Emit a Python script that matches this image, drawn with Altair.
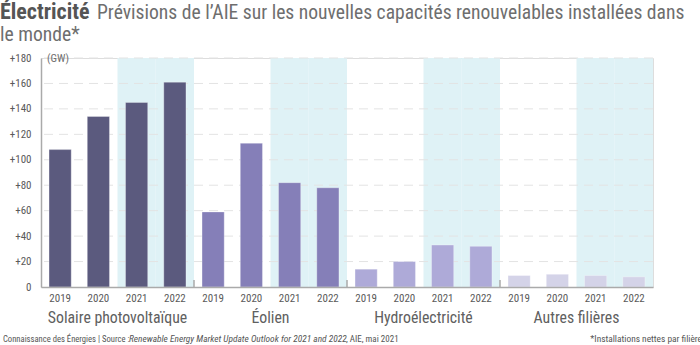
import altair as alt
import pandas as pd

groups = ["Solaire photovoltaïque", "Éolien", "Hydroélectricité", "Autres filières"]
years = ["2019", "2020", "2021", "2022"]
solaire = [108, 134, 145, 161]
eolien = [59, 113, 82, 78]
hydro = [14, 20, 33, 32]
autres = [9, 10, 9, 8]
colors = ["#5b5a7e", "#857fb8", "#aeaad8", "#d4d3e8"]
grid_vals = [20, 40, 60, 80, 100, 120, 140, 160, 180]
shaded_years = ["2021", "2022"]

FONT = "Liberation Sans Narrow, Roboto Condensed, DejaVu Sans Condensed, Roboto, sans-serif"
W, H = 612, 229

series = [solaire, eolien, hydro, autres]
rows = []
for g, vals in zip(groups, series):
    for y, v in zip(years, vals):
        rows.append({"group": g, "year": y, "key": g + "|" + y, "value": v})
df = pd.DataFrame(rows)
keys = list(df["key"])

xscale = alt.Scale(domain=keys, paddingInner=0, paddingOuter=0)
yscale = alt.Scale(domain=[0, 180], nice=False)

xaxis = alt.Axis(labelExpr="split(datum.value, '|')[1]", labelAngle=0,
                 labelFont=FONT, labelFontSize=11, labelColor="#5a5a5a",
                 labelPadding=5, ticks=False, domainColor="#aaaaaa",
                 domainWidth=1.5, title=None, grid=False)
yaxis = alt.Axis(values=[0] + grid_vals, grid=False, ticks=False,
                 labelExpr="datum.value == 0 ? '0' : '+' + datum.label",
                 labelFont=FONT, labelFontSize=11, labelColor="#5a5a5a",
                 labelPadding=10, domainColor="#aaaaaa", domainWidth=1.5, title=None)

shade_df = df[df["year"].isin(shaded_years)]
shade = alt.Chart(shade_df).mark_rect(color="#dff2f6").encode(
    x=alt.X("key:N", scale=xscale, axis=xaxis),
    y=alt.value(0), y2=alt.value(H),
)

grid = alt.Chart(pd.DataFrame({"v": grid_vals})).mark_rule(
    color="#e3e3e3", strokeDash=[9, 6], strokeWidth=1
).encode(y=alt.Y("v:Q", scale=yscale, axis=yaxis))

bars = alt.Chart(df).mark_bar(
    width=alt.RelativeBandSize(0.58), stroke="#ffffff", strokeWidth=0.6, strokeOpacity=0.5
).encode(
    x=alt.X("key:N", scale=xscale, sort=keys, axis=xaxis),
    y=alt.Y("value:Q", scale=yscale, axis=yaxis),
    color=alt.Color("group:N", scale=alt.Scale(domain=groups, range=colors), legend=None),
)

sep_df = pd.DataFrame({"key": [g + "|2019" for g in groups[1:]]})
seps = alt.Chart(sep_df).mark_rule(color="#aaaaaa", strokeWidth=1.5).encode(
    x=alt.X("key:N", scale=xscale, bandPosition=0, axis=xaxis),
    y=alt.value(H - 7), y2=alt.value(H),
)

glab_df = pd.DataFrame({"key": [g + "|2021" for g in groups], "group": groups})
glabels = alt.Chart(glab_df).mark_text(
    font=FONT, fontSize=15.8, color="#606060", baseline="middle"
).encode(
    x=alt.X("key:N", scale=xscale, bandPosition=0, axis=xaxis),
    y=alt.value(H + 31),
    text="group:N",
)

def txt(text, x, y, size, color="#6e6e6e", weight="normal", style="normal", align="left", baseline="alphabetic"):
    return alt.Chart(pd.DataFrame({"t": [text]})).mark_text(
        font=FONT, fontSize=size, color=color, fontWeight=weight, fontStyle=style,
        align=align, baseline=baseline
    ).encode(x=alt.value(x), y=alt.value(y), text="t:N")

title1 = txt("Électricité", -41, -39, 22, color="#555555", weight="bold")
title2 = txt("Prévisions de l’AIE sur les nouvelles capacités renouvelables installées dans", 56, -39, 19.6)
title3 = txt("le monde*", -41, -17, 19.6)
unit = txt("(GW)", 6, 1, 11, baseline="middle")
foot1 = txt("Connaissance des Énergies | Source : ", -38, 284, 8.6, color="#555555")
foot2 = txt("Renewable Energy Market Update Outlook for 2021 and 2022", 88, 284, 9.4, color="#555555", style="italic")
foot3 = txt(", AIE, mai 2021", 305, 284, 9, color="#555555")
foot4 = txt("*Installations nettes par filière", 661, 284, 9.4, color="#555555", align="right")

chart = alt.layer(
    shade, grid, bars, seps, glabels, title1, title2, title3, unit, foot1, foot2, foot3, foot4
).properties(
    width=W, height=H,
    autosize=alt.AutoSizeParams(type="none"),
    padding={"left": 41, "top": 58, "right": 47, "bottom": 58},
).configure_view(stroke=None).configure(background="white")

chart.save("out.html", embed_options={"renderer": "svg", "actions": False})
